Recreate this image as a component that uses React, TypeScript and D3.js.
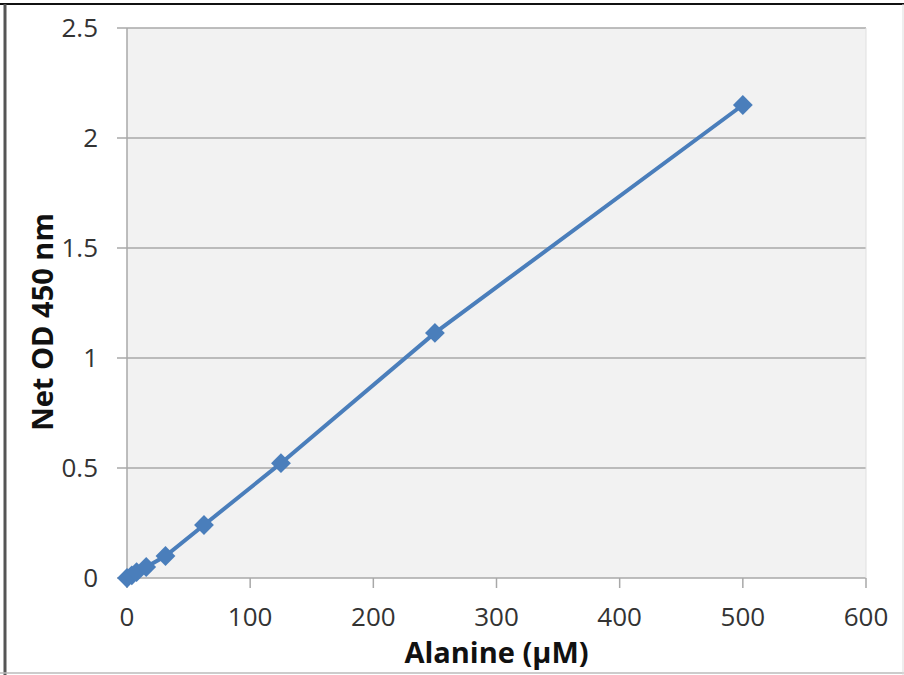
import * as d3 from "d3";

const WIDTH = 904;
const HEIGHT = 675;
const MARGIN = { top: 28, right: 38, bottom: 97, left: 127 };

// Alanine standard curve (µM vs net OD 450 nm)
const alanine = [0, 3.9, 7.8, 15.6, 31.25, 62.5, 125, 250, 500];
const netOD = [0, 0.012, 0.027, 0.05, 0.1, 0.241, 0.522, 1.114, 2.15];
const xTicks = [0, 100, 200, 300, 400, 500, 600];
const yTicks = [0, 0.5, 1, 1.5, 2, 2.5];

const BLUE = "#4a7ebb";
const FONT = "'Open Sans', 'Liberation Sans', sans-serif";

export default function App() {
  const boundsWidth = WIDTH - MARGIN.left - MARGIN.right;
  const boundsHeight = HEIGHT - MARGIN.top - MARGIN.bottom;

  const xScale = d3.scaleLinear().domain([0, 600]).range([0, boundsWidth]);
  const yScale = d3.scaleLinear().domain([0, 2.5]).range([boundsHeight, 0]);

  const points = alanine.map((x, i) => ({ x, y: netOD[i] }));

  const line = d3
    .line<{ x: number; y: number }>()
    .x((d) => xScale(d.x))
    .y((d) => yScale(d.y));

  const diamond = d3.symbol().type(d3.symbolDiamond2).size(250)();

  return (
    <svg
      width={WIDTH}
      height={HEIGHT}
      style={{ position: "absolute", left: 0, top: 0, background: "#fff" }}
    >
      {/* outer frame */}
      <line x1={0} x2={WIDTH} y1={4} y2={4} stroke="#111" strokeWidth={2} />
      <line x1={5} x2={5} y1={4} y2={HEIGHT} stroke="#555" strokeWidth={3} />
      <line x1={0} x2={WIDTH} y1={673} y2={673} stroke="#bbb" strokeWidth={1.5} />
      <line x1={903} x2={903} y1={4} y2={HEIGHT} stroke="#ddd" strokeWidth={1} />

      <g transform={`translate(${MARGIN.left},${MARGIN.top})`}>
        <rect width={boundsWidth} height={boundsHeight} fill="#f2f2f2" />

        {yTicks.map((t) => (
          <g key={t} transform={`translate(0,${yScale(t)})`}>
            <line x1={-10} x2={boundsWidth} stroke="#a8a8a8" strokeWidth={1.5} />
            <text
              x={-29}
              dy="0.35em"
              textAnchor="end"
              fontFamily={FONT}
              fontSize={26}
              fill="#333"
            >
              {t}
            </text>
          </g>
        ))}

        <line x1={0} x2={0} y1={0} y2={boundsHeight} stroke="#a8a8a8" strokeWidth={1.5} />
        <line
          x1={boundsWidth}
          x2={boundsWidth}
          y1={0}
          y2={boundsHeight}
          stroke="#e0e0e0"
          strokeWidth={1}
        />

        {xTicks.map((t) => (
          <g key={t} transform={`translate(${xScale(t)},${boundsHeight})`}>
            <line y1={0} y2={10} stroke="#a8a8a8" strokeWidth={1.5} />
            <text
              y={48}
              textAnchor="middle"
              fontFamily={FONT}
              fontSize={26}
              fill="#333"
            >
              {t}
            </text>
          </g>
        ))}

        <path d={line(points) ?? ""} fill="none" stroke={BLUE} strokeWidth={4} />
        {points.map((d, i) => (
          <path
            key={i}
            d={diamond ?? ""}
            transform={`translate(${xScale(d.x)},${yScale(d.y)})`}
            fill={BLUE}
          />
        ))}
      </g>

      <text
        x={MARGIN.left + boundsWidth / 2}
        y={663}
        textAnchor="middle"
        fontFamily={FONT}
        fontSize={29}
        fontWeight="bold"
        fill="#111"
      >
        Alanine (µM)
      </text>
      <text
        transform={`translate(53,322) rotate(-90)`}
        textAnchor="middle"
        fontFamily={FONT}
        fontSize={29}
        fontWeight="bold"
        fill="#111"
      >
        Net OD 450 nm
      </text>
    </svg>
  );
}
